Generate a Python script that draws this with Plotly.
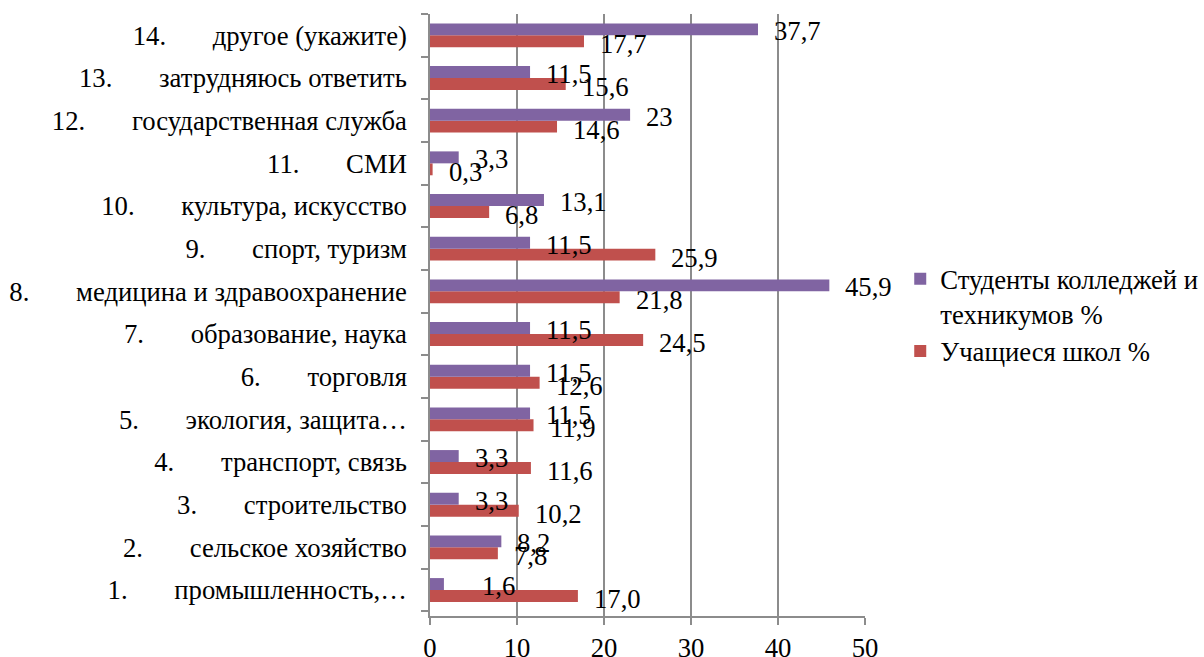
import plotly.graph_objects as go

NB = "\u00a0"
numbers = ["1.", "2.", "3.", "4.", "5.", "6.", "7.", "8.", "9.", "10.", "11.", "12.", "13.", "14."]
names = ["промышленность,…", "сельское хозяйство", "строительство", "транспорт, связь",
         "экология, защита…", "торговля", "образование, наука", "медицина и здравоохранение",
         "спорт, туризм", "культура, искусство", "СМИ", "государственная служба",
         "затрудняюсь ответить", "другое (укажите)"]
students = [1.6, 8.2, 3.3, 3.3, 11.5, 11.5, 11.5, 45.9, 11.5, 13.1, 3.3, 23, 11.5, 37.7]
students_text = ["1,6", "8,2", "3,3", "3,3", "11,5", "11,5", "11,5", "45,9", "11,5", "13,1", "3,3", "23", "11,5", "37,7"]
pupils = [17.0, 7.8, 10.2, 11.6, 11.9, 12.6, 24.5, 21.8, 25.9, 6.8, 0.3, 14.6, 15.6, 17.7]
pupils_text = ["17,0", "7,8", "10,2", "11,6", "11,9", "12,6", "24,5", "21,8", "25,9", "6,8", "0,3", "14,6", "15,6", "17,7"]
series_names = ["Студенты колледжей и<br>техникумов %", "Учащиеся школ %"]
xticks = [0, 10, 20, 30, 40, 50]

cats = [n + NB * 7 + nm for n, nm in zip(numbers, names)]

FONT = "Liberation Serif, Times New Roman, serif"
FS = 26.7
PURPLE = "#8064A2"
RED = "#C0504D"
GRID = "#8C8C8C"

fig = go.Figure()
fig.add_trace(go.Bar(y=cats, x=pupils, orientation="h", name=series_names[1],
                     marker=dict(color=RED, line=dict(width=0))))
fig.add_trace(go.Bar(y=cats, x=students, orientation="h", name=series_names[0],
                     marker=dict(color=PURPLE, line=dict(width=0))))

BW = 0.28
extra_shift = {0: 22}  # label "1,6" placed further right in the original
annotations = []
for i in range(len(cats)):
    annotations.append(dict(x=students[i], y=i + BW / 2, xref="x", yref="y",
                            text=students_text[i], showarrow=False, xanchor="left",
                            yanchor="middle", xshift=14 + extra_shift.get(i, 0), yshift=-2,
                            font=dict(family=FONT, size=FS, color="black")))
    annotations.append(dict(x=pupils[i], y=i - BW / 2, xref="x", yref="y",
                            text=pupils_text[i], showarrow=False, xanchor="left",
                            yanchor="middle", xshift=14, yshift=-3,
                            font=dict(family=FONT, size=FS, color="black")))

fig.update_layout(
    width=1204, height=657,
    margin=dict(l=430, r=339, t=14, b=41, autoexpand=False),
    paper_bgcolor="white", plot_bgcolor="white",
    barmode="group", bargap=0.44, bargroupgap=0,
    font=dict(family=FONT, size=FS, color="black"),
    annotations=annotations,
    showlegend=True,
    legend=dict(x=1.081, y=0.6, xanchor="left", yanchor="top",
                traceorder="reversed", valign="top",
                font=dict(family=FONT, size=FS, color="black"),
                itemsizing="constant"),
    xaxis=dict(range=[0, 50], tickvals=xticks, showgrid=True, gridcolor=GRID, gridwidth=1.5,
               showline=True, linecolor=GRID, linewidth=1.5, ticks="outside", ticklen=7,
               tickcolor=GRID, tickwidth=1.5, zeroline=False, automargin=False,
               tickfont=dict(family=FONT, size=FS, color="black")),
    yaxis=dict(type="category", categoryorder="array", categoryarray=cats,
               showline=True, linecolor=GRID, linewidth=1.5, ticks="outside", ticklen=7,
               tickcolor=GRID, tickwidth=1.5, tickson="boundaries", showgrid=False,
               ticklabelstandoff=16, automargin=False,
               tickfont=dict(family=FONT, size=FS, color="black")),
)

fig.write_html("out.html", config={"displayModeBar": False},
               post_script="document.body.style.margin='0';document.body.style.overflow='hidden';")
